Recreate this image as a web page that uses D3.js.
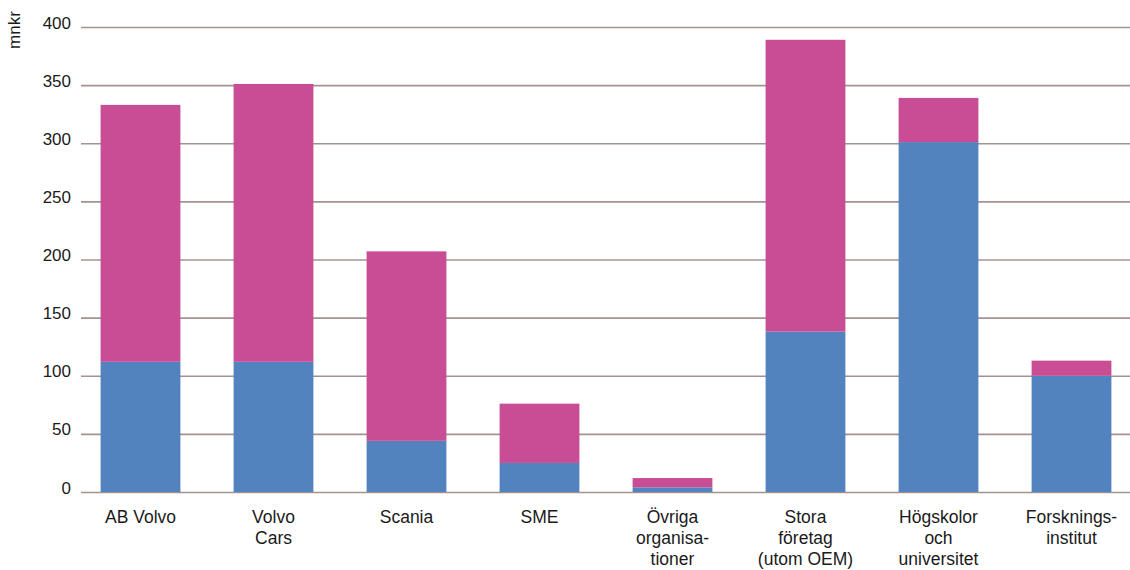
<!DOCTYPE html>
<html>
<head>
<meta charset="utf-8">
<script src="https://cdn.jsdelivr.net/npm/d3@7"></script>
<style>
body { margin: 0; background: #fff; }
text { font-family: "Liberation Sans", Arial, sans-serif; fill: #1a1a1a; }
</style>
</head>
<body>
<div id="chart"></div>
<script>
// data
const categories = [
    ["AB Volvo"],
    ["Volvo", "Cars"],
    ["Scania"],
    ["SME"],
    ["Övriga", "organisa-", "tioner"],
    ["Stora", "företag", "(utom OEM)"],
    ["Högskolor", "och", "universitet"],
    ["Forsknings-", "institut"]
]
const blueValues = [112, 112, 44, 25, 4, 138, 301, 100]
const pinkValues = [221, 239, 163, 51, 8, 251, 38, 13]
const yTicks = [0, 50, 100, 150, 200, 250, 300, 350, 400]

const width = 1130
const height = 570
const margin = { top: 27, left: 81, bottom: 492 }

const svg = d3.select("#chart").append("svg")
    .attr("width", width)
    .attr("height", height)

const x = d3.scaleBand()
    .domain(d3.range(categories.length))
    .range([74, 1138])
    .paddingInner(0.4)
    .paddingOuter(0.2)

const y = d3.scaleLinear()
    .domain([0, 400])
    .range([margin.bottom, margin.top])

// gridlines
svg.append("g")
    .selectAll("line")
    .data(yTicks)
    .enter()
    .append("line")
    .attr("x1", margin.left)
    .attr("x2", width)
    .attr("y1", function (d) { return y(d) + 0.5 })
    .attr("y2", function (d) { return y(d) + 0.5 })
    .style("stroke", "#a3928f")
    .style("stroke-width", 1.6)

svg.append("g")
    .selectAll("text")
    .data(yTicks)
    .enter()
    .append("text")
    .attr("x", 71)
    .attr("y", function (d) { return y(d) + 1.5 })
    .attr("text-anchor", "end")
    .style("font-size", "17px")
    .text(function (d) { return d })

svg.append("text")
    .attr("transform", "translate(20,30) rotate(-90)")
    .attr("text-anchor", "middle")
    .style("font-size", "17px")
    .text("mnkr")

const stacked = categories.map(function (c, i) {
    return { i: i, blue: blueValues[i], pink: pinkValues[i] }
})

const bars = svg.append("g")
bars.selectAll(".blue")
    .data(stacked)
    .enter()
    .append("rect")
    .attr("class", "blue")
    .attr("x", function (d) { return x(d.i) })
    .attr("width", x.bandwidth())
    .attr("y", function (d) { return y(d.blue) })
    .attr("height", function (d) { return y(0) - y(d.blue) })
    .style("fill", "#5383be")

bars.selectAll(".pink")
    .data(stacked)
    .enter()
    .append("rect")
    .attr("class", "pink")
    .attr("x", function (d) { return x(d.i) })
    .attr("width", x.bandwidth())
    .attr("y", function (d) { return y(d.blue + d.pink) })
    .attr("height", function (d) { return y(d.blue) - y(d.blue + d.pink) })
    .style("fill", "#c84d94")

// x labels
const labels = svg.append("g")
    .selectAll("text")
    .data(categories)
    .enter()
    .append("text")
    .attr("text-anchor", "middle")
    .attr("x", function (d, i) { return x(i) + x.bandwidth() / 2 })
    .attr("y", 523)
    .style("font-size", "17.5px")

labels.selectAll("tspan")
    .data(function (d) { return d })
    .enter()
    .append("tspan")
    .attr("x", function () { return d3.select(this.parentNode).attr("x") })
    .attr("dy", function (d, i) { return i == 0 ? 0 : 21 })
    .text(function (d) { return d })
</script>
</body>
</html>
